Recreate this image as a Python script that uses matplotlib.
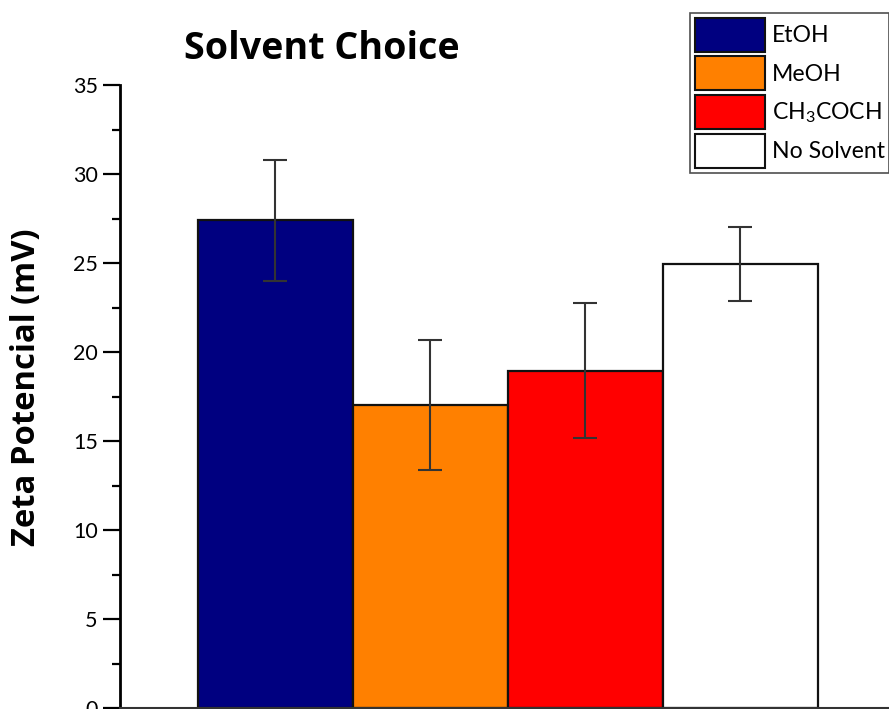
import matplotlib
matplotlib.use("Agg")
import matplotlib.pyplot as plt
from matplotlib.patches import Patch
from matplotlib.ticker import MultipleLocator

plt.rcParams['font.family'] = ['Lato', 'DejaVu Sans']
plt.rcParams['mathtext.fontset'] = 'custom'
plt.rcParams['mathtext.rm'] = 'Lato'
plt.rcParams['mathtext.it'] = 'Lato'

categories = ['EtOH', 'MeOH', r'CH$_{3}$COCH', 'No Solvent']
values = [27.4, 17.0, 18.95, 24.95]
errors = [3.4, 3.65, 3.8, 2.07]
colors = ['#000080', '#FF8000', '#FF0000', '#FFFFFF']
positions = [1, 2, 3, 4]

fig = plt.figure(figsize=(8.89, 7.09), dpi=100)
ax = fig.add_axes([120/889, 1/709, 775/889, 623/709])

ax.bar(positions, values, width=1.0, color=colors, edgecolor='#111111', linewidth=1.6, zorder=2)
ax.errorbar(positions, values, yerr=errors, fmt='none', ecolor='#333333', elinewidth=1.5,
            capsize=8.5, capthick=1.5, zorder=3)

ax.set_xlim(0, 5)
ax.set_ylim(0, 35)
ax.yaxis.set_major_locator(MultipleLocator(5))
ax.yaxis.set_minor_locator(MultipleLocator(2.5))
ax.tick_params(axis='y', which='major', direction='out', length=12, width=1.6, labelsize=15.5, pad=4)
ax.tick_params(axis='y', which='minor', direction='out', length=6, width=1.6)
ax.set_xticks([])
for s in ['top', 'right']:
    ax.spines[s].set_visible(False)
ax.spines['left'].set_linewidth(2)
ax.spines['bottom'].set_linewidth(1.5)
ax.spines['bottom'].set_color('#333333')

renderer = fig.canvas.get_renderer()

def fit(text_obj, target, horizontal=True):
    fs = text_obj.get_fontsize()
    for _ in range(3):
        bb = text_obj.get_window_extent(renderer)
        cur = bb.width if horizontal else bb.height
        fs = fs * target / cur
        text_obj.set_fontsize(fs)

title = fig.text(322/889, 1 - 49/709, 'Solvent Choice', ha='center', va='center', fontsize=25,
                 fontweight='bold', family=['Open Sans', 'DejaVu Sans'])
fit(title, 274)
ylab = fig.text(27/889, 1 - 387/709, 'Zeta Potencial (mV)', ha='center', va='center', rotation=90,
                fontsize=20, fontweight='bold', family=['Open Sans', 'DejaVu Sans'])
fit(ylab, 318, horizontal=False)

handles = [Patch(facecolor=c, edgecolor='#111111', linewidth=1.5, label=l) for c, l in zip(colors, categories)]
leg = fig.legend(handles=handles, loc='upper left', bbox_to_anchor=(690/889, 1 - 13/709),
                 bbox_transform=fig.transFigure, fontsize=16.6, frameon=True, fancybox=False,
                 edgecolor='#222222', handlelength=3.05, handleheight=1.9, labelspacing=0.2,
                 handletextpad=0.3, borderpad=0.2, borderaxespad=0)
leg.get_frame().set_linewidth(1.2)

fig.savefig('out.png', dpi=100)
